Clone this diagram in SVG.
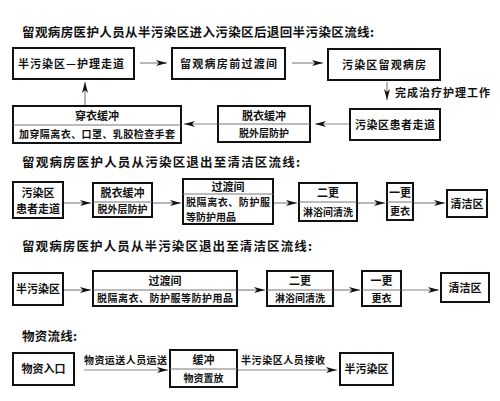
<svg xmlns="http://www.w3.org/2000/svg" width="500" height="401" viewBox="0 0 500 401">
<style>
text{font-family:"Noto Sans CJK SC","Noto Sans CJK JP",sans-serif;fill:#111;}
.title{font-size:12.5px;font-weight:bold;}
.t{font-size:11px;font-weight:bold;}
.s{font-size:10px;font-weight:bold;}
.box{fill:#fff;stroke:#111;stroke-width:2;}
.div{stroke:#777;stroke-width:1;}
.ln{stroke:#888;stroke-width:1.2;fill:none;marker-end:url(#ah);}
</style>
<defs>
<marker id="ah" markerUnits="userSpaceOnUse" markerWidth="12" markerHeight="8" refX="11" refY="4" orient="auto">
<path d="M0,1 L11,4 L0,7 L3,4 Z" fill="#111"/>
</marker>
</defs>
<rect width="500" height="401" fill="#fff"/>

<text class="title" x="22" y="37" textLength="352" lengthAdjust="spacing">留观病房医护人员从半污染区进入污染区后退回半污染区流线:</text>
<text class="title" x="22" y="167" textLength="278" lengthAdjust="spacing">留观病房医护人员从污染区退出至清洁区流线:</text>
<text class="title" x="22" y="251" textLength="290" lengthAdjust="spacing">留观病房医护人员从半污染区退出至清洁区流线:</text>
<text class="title" x="22" y="341" textLength="55" lengthAdjust="spacing">物资流线:</text>

<g id="connectors">
<line class="ln" x1="140" y1="63" x2="167" y2="63"/>
<line class="ln" x1="292" y1="63" x2="323" y2="63"/>
<line class="ln" x1="387" y1="82" x2="387" y2="100"/>
<line class="ln" x1="350" y1="124" x2="315" y2="124"/>
<line class="ln" x1="218" y1="124" x2="184" y2="124"/>
<line class="ln" x1="85" y1="106" x2="85" y2="82"/>
<line class="ln" x1="63" y1="203" x2="91" y2="203"/>
<line class="ln" x1="152" y1="203" x2="181" y2="203"/>
<line class="ln" x1="273" y1="203" x2="297" y2="203"/>
<line class="ln" x1="357" y1="203" x2="385" y2="203"/>
<line class="ln" x1="413" y1="203" x2="445" y2="203"/>
<line class="ln" x1="63" y1="290" x2="91" y2="290"/>
<line class="ln" x1="237" y1="290" x2="265" y2="290"/>
<line class="ln" x1="333" y1="290" x2="360" y2="290"/>
<line class="ln" x1="401" y1="290" x2="439" y2="290"/>
<line class="ln" x1="84" y1="370" x2="168" y2="370"/>
<line class="ln" x1="238" y1="370" x2="337" y2="370"/>
<text class="t" x="395" y="97" textLength="95" lengthAdjust="spacing">完成治疗护理工作</text>
<text class="s" x="84" y="364" textLength="83" lengthAdjust="spacing">物资运送人员运送</text>
<text class="s" x="241" y="364" textLength="84" lengthAdjust="spacing">半污染区人员接收</text>
</g>

<g id="n1"><rect class="box" x="13" y="48" width="121" height="31"/><text class="t" x="18" y="68" textLength="106" lengthAdjust="spacing">半污染区—护理走道</text></g>
<g id="n2"><rect class="box" x="172" y="48" width="113" height="31"/><text class="t" x="180" y="68" textLength="97" lengthAdjust="spacing">留观病房前过渡间</text></g>
<g id="n3"><rect class="box" x="328" y="49" width="112" height="31"/><text class="t" x="342" y="69" textLength="84" lengthAdjust="spacing">污染区留观病房</text></g>

<g id="n4"><rect class="box" x="13" y="106" width="168" height="37"/><line class="div" x1="13" y1="125" x2="181" y2="125"/><text class="t" x="97" y="120" text-anchor="middle">穿衣缓冲</text><text class="s" x="19" y="138" textLength="156" lengthAdjust="spacing">加穿隔离衣、口罩、乳胶检查手套</text></g>
<g id="n5"><rect class="box" x="218" y="106" width="92" height="36"/><line class="div" x1="218" y1="124" x2="310" y2="124"/><text class="t" x="264" y="120" text-anchor="middle">脱衣缓冲</text><text class="s" x="264" y="137" text-anchor="middle">脱外层防护</text></g>
<g id="n6"><rect class="box" x="350" y="109" width="90" height="31"/><text class="t" x="395" y="129" text-anchor="middle" textLength="80" lengthAdjust="spacing">污染区患者走道</text></g>

<g id="n7"><rect class="box" x="13" y="182" width="50" height="36"/><text class="t" x="38" y="197" text-anchor="middle">污染区</text><text class="t" x="38" y="213" text-anchor="middle">患者走道</text></g>
<g id="n8"><rect class="box" x="93" y="183" width="59" height="34"/><line class="div" x1="93" y1="202" x2="152" y2="202"/><text class="t" x="122.5" y="197" text-anchor="middle">脱衣缓冲</text><text class="s" x="122.5" y="213" text-anchor="middle">脱外层防护</text></g>
<g id="n9"><rect class="box" x="183" y="179" width="90" height="45"/><line class="div" x1="183" y1="194" x2="273" y2="194"/><text class="t" x="228" y="191" text-anchor="middle">过渡间</text><text class="s" x="186" y="206" textLength="84" lengthAdjust="spacing">脱隔离衣、防护服</text><text class="s" x="186" y="221">等防护用品</text></g>
<g id="n10"><rect class="box" x="299" y="183" width="58" height="38"/><line class="div" x1="299" y1="202" x2="357" y2="202"/><text class="t" x="328" y="197" text-anchor="middle">二更</text><text class="s" x="328" y="216" text-anchor="middle">淋浴间清洗</text></g>
<g id="n11"><rect class="box" x="387" y="183" width="26" height="37"/><line class="div" x1="387" y1="202" x2="413" y2="202"/><text class="t" x="400" y="197" text-anchor="middle">一更</text><text class="s" x="400" y="215" text-anchor="middle">更衣</text></g>
<g id="n12"><rect class="box" x="447" y="190" width="40" height="27"/><text class="t" x="467" y="208" text-anchor="middle">清洁区</text></g>

<g id="n13"><rect class="box" x="13" y="273" width="50" height="32"/><text class="t" x="38" y="293" text-anchor="middle">半污染区</text></g>
<g id="n14"><rect class="box" x="93" y="271" width="144" height="35"/><line class="div" x1="93" y1="290" x2="237" y2="290"/><text class="t" x="165" y="285" text-anchor="middle">过渡间</text><text class="s" x="97" y="302" textLength="136" lengthAdjust="spacing">脱隔离衣、防护服等防护用品</text></g>
<g id="n15"><rect class="box" x="267" y="271" width="66" height="35"/><line class="div" x1="267" y1="290" x2="333" y2="290"/><text class="t" x="300" y="285" text-anchor="middle">二更</text><text class="s" x="300" y="302" text-anchor="middle">淋浴间清洗</text></g>
<g id="n16"><rect class="box" x="362" y="271" width="39" height="35"/><line class="div" x1="362" y1="290" x2="401" y2="290"/><text class="t" x="381.5" y="285" text-anchor="middle">一更</text><text class="s" x="381.5" y="302" text-anchor="middle">更衣</text></g>
<g id="n17"><rect class="box" x="441" y="273" width="48" height="29"/><text class="t" x="465" y="292" text-anchor="middle">清洁区</text></g>

<g id="n18"><rect class="box" x="13" y="353" width="61" height="32"/><text class="t" x="43.5" y="373" text-anchor="middle">物资入口</text></g>
<g id="n19"><rect class="box" x="170" y="350" width="67" height="37"/><line class="div" x1="170" y1="369" x2="237" y2="369"/><text class="t" x="203.5" y="364" text-anchor="middle">缓冲</text><text class="s" x="203.5" y="382" text-anchor="middle">物资置放</text></g>
<g id="n20"><rect class="box" x="340" y="353" width="53" height="32"/><text class="t" x="366.5" y="373" text-anchor="middle">半污染区</text></g>
</svg>
